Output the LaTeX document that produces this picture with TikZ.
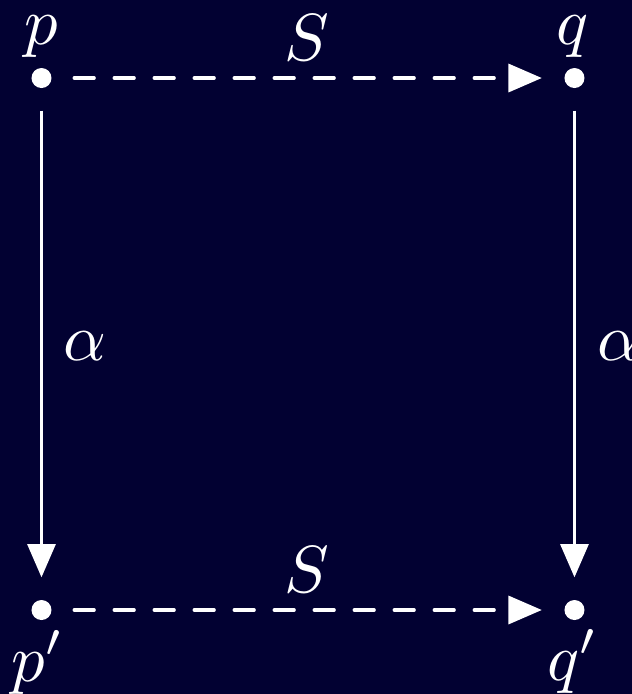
\documentclass[tikz,border=0pt]{standalone}
\usetikzlibrary{arrows.meta}
\definecolor{bg}{RGB}{2,1,50}
\begin{document}
\begin{tikzpicture}[x=0.15pt,y=-0.15pt,
  dot/.style={circle,fill=white,inner sep=0pt,minimum size=3pt},
  lbl/.style={text=white,anchor=base,inner sep=0pt},
  arr/.style={draw=white,line width=0.48pt,-{Triangle[length=5pt,width=4.2pt]},shorten <=3.2pt,shorten >=3.2pt},
  dasharr/.style={arr,dash pattern=on 3pt off 3pt,line cap=round}]
\useasboundingbox (0,0) rectangle (632,694);
\fill[bg] (0,0) rectangle (632,694);
\node[dot] (p) at (41.5,78) {};
\node[dot] (q) at (574.5,78) {};
\node[dot] (pp) at (41.5,610) {};
\node[dot] (qp) at (574.5,610) {};
\node[lbl] (lp) at (41,44) {$p$};
\node[lbl] (lq) at (573,44) {$q$};
\node[lbl] (lpp) at (38,681) {$p'$};
\node[lbl] (lqp) at (573,680) {$q'$};
\node[lbl] (s1) at (307,60) {$S$};
\node[lbl] (s2) at (307,592) {$S$};
\node[lbl] (a1) at (85,360) {$\alpha$};
\node[lbl] (a2) at (619,360) {$\alpha$};
\draw[dasharr] (p) -- (q);
\draw[dasharr] (pp) -- (qp);
\draw[arr] (p) -- (pp);
\draw[arr] (q) -- (qp);
\end{tikzpicture}
\end{document}
